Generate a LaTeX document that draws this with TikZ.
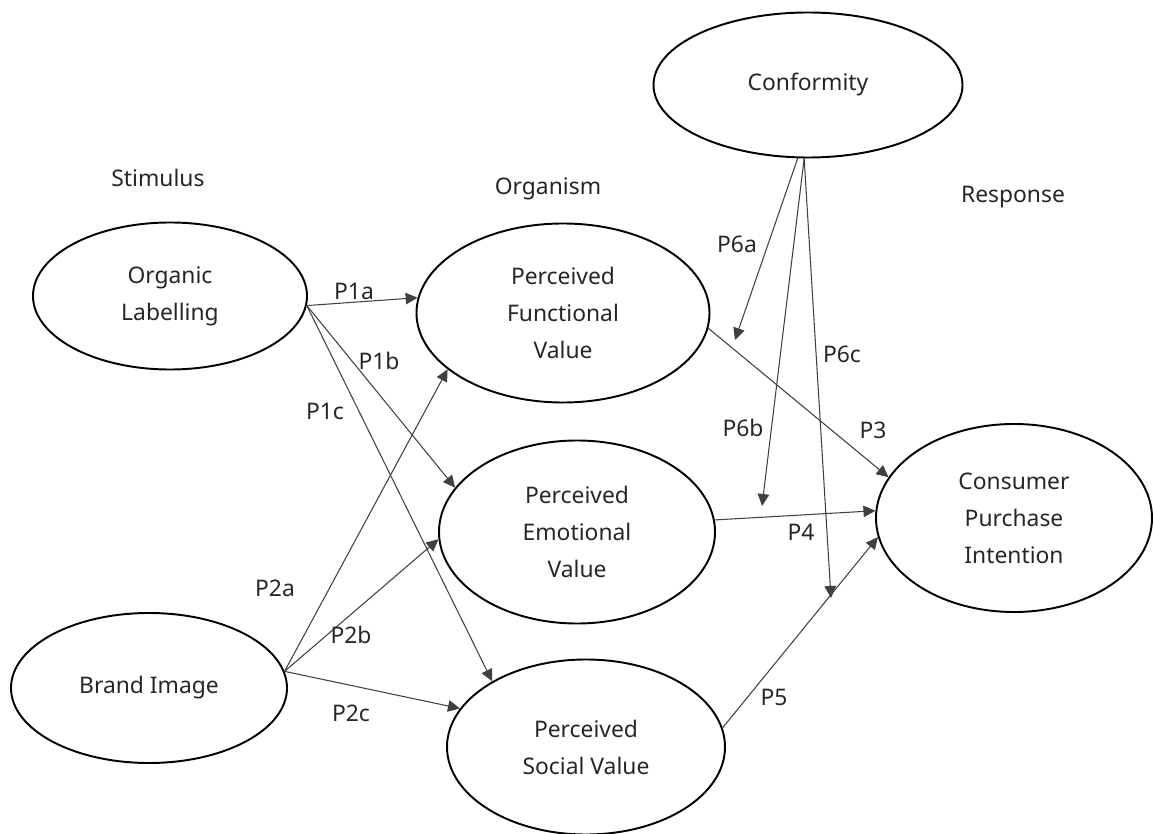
\documentclass[tikz,border=0pt]{standalone}
\usepackage{fontspec}
\setmainfont{Noto Sans}
\usetikzlibrary{arrows.meta, shapes.geometric}

\begin{document}
\begin{tikzpicture}[x=0.02cm, y=-0.02cm, line cap=round, line join=round,
  >={Triangle[length=2.4mm, width=2.3mm]},
  every node/.style={font=\fontsize{13pt}{21pt}\selectfont, text=black!85},
  construct/.style={ellipse, draw=black, line width=1.1pt, inner sep=0pt, align=center},
  link/.style={->, line width=0.6pt, draw=black!75}]

  % ===== Parameters =====
  \def\u{0.02cm}   % one pixel of the layout

  \useasboundingbox (0,0) rectangle (1153,834);

  % ===== Stage headings =====
  \node (stim) at (158,178) {Stimulus};
  \node (orgm) at (548,189) {Organism};
  \node (resp) at (1013,197) {Response};

  % ===== Constructs =====
  \node[construct, minimum width=274*\u, minimum height=147*\u] (org)   at (170,296)  {Organic\\Labelling};
  \node[construct, minimum width=276*\u, minimum height=150*\u] (brand) at (149,688)  {Brand Image};
  \node[construct, minimum width=293*\u, minimum height=179*\u] (func)  at (563,313)  {Perceived\\Functional\\Value};
  \node[construct, minimum width=276*\u, minimum height=183*\u] (emo)   at (577,532)  {Perceived\\Emotional\\Value};
  \node[construct, minimum width=278*\u, minimum height=175*\u] (soc)   at (586,747)  {Perceived\\Social Value};
  \node[construct, minimum width=276*\u, minimum height=188*\u] (cpi)   at (1014,518) {Consumer\\Purchase\\Intention};
  \node[construct, minimum width=309*\u, minimum height=145*\u] (conf)  at (808,85)   {Conformity};

  % ===== Stimulus -> Organism =====
  \draw[link] (org.-4) -- (func.174);
  \draw[link] (org.-4) -- (emo.160);
  \draw[link] (org.-4) -- (soc.145);
  \draw[link] (brand.7) -- (func.-154);
  \draw[link] (brand.7) -- (emo.183);
  \draw[link] (brand.7) -- (soc.163);

  % ===== Organism -> Response =====
  \draw[link] (func.-6) -- (cpi.162);
  \draw[link] (emo.5) -- (cpi.177);
  \draw[link] (soc.8) -- (cpi.188);

  % ===== Moderation by conformity =====
  \coordinate (m3) at (735,340);
  \coordinate (m4) at (762,506);
  \coordinate (m5) at (831,598);
  \draw[link] (conf.-98) -- (m3);
  \draw[link] (conf.-93) -- (m4);
  \draw[link] (conf.-93) -- (m5);

  % ===== Path labels =====
  \node (p1a) at (354,291) {P1a};
  \node (p1b) at (379,361) {P1b};
  \node (p1c) at (325,411) {P1c};
  \node (p2a) at (275,588) {P2a};
  \node (p2b) at (351,635) {P2b};
  \node (p2c) at (351,713) {P2c};
  \node (p3)  at (873,430) {P3};
  \node (p4)  at (801,532) {P4};
  \node (p5)  at (774,697) {P5};
  \node (p6a) at (737,244) {P6a};
  \node (p6b) at (743,428) {P6b};
  \node (p6c) at (842,354) {P6c};

\end{tikzpicture}
\end{document}
